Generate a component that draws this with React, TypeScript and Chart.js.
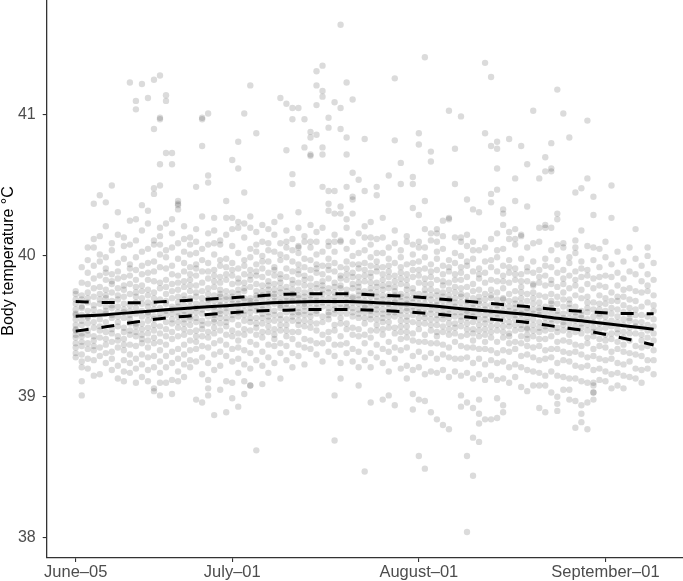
import React, { useEffect, useRef } from "react";
import { Chart, registerables } from "chart.js";

Chart.register(...registerables);

// x axis: days since June 5
const xTickDays = [0, 26, 57, 88];
const xTickLabels = ["June–05", "July–01", "August–01", "September–01"];
const yTicks = [38, 39, 40, 41];
const yTitle = "Body temperature °C";

// smoothed fit and its confidence band
const fitDays = [0, 5, 10, 15, 20, 25, 30, 35, 40, 45, 50, 55, 60, 65, 70, 75, 80, 85, 90, 96];
const fitMean = [39.571, 39.583, 39.6, 39.618, 39.633, 39.647, 39.661, 39.671, 39.676, 39.676, 39.668, 39.658, 39.642, 39.622, 39.604, 39.584, 39.557, 39.535, 39.51, 39.479];
const fitUpper = [39.676, 39.669, 39.668, 39.676, 39.688, 39.7, 39.715, 39.728, 39.732, 39.732, 39.722, 39.713, 39.696, 39.678, 39.658, 39.64, 39.618, 39.604, 39.592, 39.59];
const fitLower = [39.466, 39.497, 39.531, 39.559, 39.577, 39.594, 39.608, 39.615, 39.62, 39.619, 39.614, 39.603, 39.587, 39.566, 39.547, 39.528, 39.497, 39.467, 39.425, 39.368];

// body temperature readings per day (index = days since June 5)
const dailyTemps: number[][] = [
  [39.75, 39.73, 39.66, 39.59, 39.58, 39.55, 39.51, 39.44, 39.42, 39.38, 39.31, 39.28, 39.62, 39.48, 39.69, 39.35, 39.47],
  [39.92, 39.81, 39.69, 39.64, 39.63, 39.54, 39.45, 39.43, 39.39, 39.3, 39.25, 39.21, 39.72, 39.11, 39.01, 39.51, 39.58, 39.36],
  [40.06, 39.97, 39.8, 39.74, 39.61, 39.57, 39.56, 39.47, 39.38, 39.34, 39.27, 39.2, 39.67, 39.52, 39.88, 39.44, 39.7],
  [40.37, 40.12, 40.06, 39.93, 39.77, 39.65, 39.62, 39.49, 39.4, 39.36, 39.33, 39.15, 39.58, 39.71, 39.43, 39.84, 39.53, 39.26],
  [40.43, 40.14, 40.01, 39.96, 39.86, 39.73, 39.69, 39.66, 39.55, 39.5, 39.42, 39.29, 39.16, 39.6, 39.47, 39.35, 39.78],
  [40.38, 40.21, 39.99, 39.91, 39.83, 39.76, 39.7, 39.61, 39.59, 39.46, 39.41, 39.37, 39.24, 39.64, 39.53, 39.31, 39.88, 39.72],
  [40.5, 40.09, 40.04, 39.87, 39.8, 39.74, 39.65, 39.63, 39.56, 39.48, 39.45, 39.32, 39.19, 39.68, 39.39, 39.82, 39.58, 39.27],
  [40.31, 40.15, 39.95, 39.89, 39.77, 39.72, 39.64, 39.57, 39.5, 39.43, 39.4, 39.35, 39.22, 39.13, 39.6, 39.69, 39.84, 39.53],
  [40.13, 40.07, 39.98, 39.85, 39.76, 39.71, 39.62, 39.6, 39.49, 39.46, 39.41, 39.33, 39.26, 39.11, 39.56, 39.79, 39.66, 39.37, 39.18],
  [41.23, 40.25, 40.08, 39.94, 39.86, 39.8, 39.73, 39.61, 39.55, 39.52, 39.44, 39.37, 39.3, 39.17, 39.65, 39.58, 39.91, 39.24, 39.47],
  [41.1, 41.04, 40.26, 40.11, 39.99, 39.9, 39.78, 39.71, 39.67, 39.59, 39.52, 39.5, 39.43, 39.36, 39.27, 39.2, 39.1, 39.63, 39.83, 39.46, 39.74],
  [41.22, 40.36, 40.18, 40.03, 39.93, 39.87, 39.79, 39.7, 39.66, 39.57, 39.48, 39.44, 39.38, 39.3, 39.23, 39.61, 39.75, 39.52, 39.41, 39.14],
  [41.12, 40.32, 40.23, 40.05, 39.95, 39.83, 39.76, 39.72, 39.64, 39.6, 39.54, 39.49, 39.4, 39.35, 39.28, 39.19, 39.11, 39.58, 39.67, 39.45, 39.88],
  [41.25, 40.9, 40.48, 40.44, 40.11, 40.08, 39.96, 39.89, 39.82, 39.74, 39.66, 39.62, 39.57, 39.51, 39.42, 39.38, 39.29, 39.21, 39.06, 39.04, 39.55, 39.7, 39.47],
  [41.28, 40.98, 40.97, 40.65, 40.5, 40.2, 40.14, 40.08, 40.01, 39.92, 39.81, 39.77, 39.69, 39.63, 39.59, 39.5, 39.45, 39.39, 39.33, 39.25, 39.17, 39.1, 39.01, 39.56],
  [41.14, 41.1, 40.73, 40.23, 39.99, 39.91, 39.83, 39.78, 39.73, 39.66, 39.61, 39.53, 39.48, 39.43, 39.37, 39.29, 39.21, 39.1, 39.58, 39.68, 40.04],
  [40.73, 40.65, 40.26, 40.16, 40.06, 39.93, 39.87, 39.75, 39.7, 39.64, 39.59, 39.55, 39.46, 39.41, 39.32, 39.24, 39.12, 39.02, 39.62, 39.52, 39.8],
  [40.39, 40.37, 40.36, 40.33, 40.09, 39.98, 39.86, 39.81, 39.76, 39.71, 39.67, 39.6, 39.53, 39.49, 39.43, 39.34, 39.27, 39.18, 39.11, 39.57, 39.64],
  [40.21, 40.03, 39.95, 39.89, 39.82, 39.78, 39.72, 39.69, 39.61, 39.55, 39.52, 39.44, 39.37, 39.3, 39.23, 39.14, 39.65, 39.58, 39.48, 40.12],
  [40.13, 40.08, 40.01, 39.92, 39.87, 39.83, 39.75, 39.7, 39.64, 39.6, 39.57, 39.51, 39.46, 39.4, 39.33, 39.21, 39.68, 39.55, 39.79, 39.26],
  [40.49, 40.19, 40.1, 40.02, 39.94, 39.91, 39.86, 39.79, 39.71, 39.66, 39.6, 39.56, 39.53, 39.47, 39.39, 39.34, 39.25, 38.98, 39.63, 39.74, 39.43],
  [40.98, 40.97, 40.78, 40.28, 40.05, 39.97, 39.89, 39.81, 39.75, 39.7, 39.62, 39.59, 39.54, 39.48, 39.43, 39.36, 39.28, 39.16, 38.96, 39.66, 39.51],
  [41.01, 40.57, 40.52, 40.16, 40.08, 39.95, 39.89, 39.84, 39.77, 39.69, 39.63, 39.57, 39.52, 39.46, 39.42, 39.35, 39.24, 39.12, 39.06, 39.01, 39.66, 39.73],
  [40.27, 40.18, 40.01, 39.9, 39.86, 39.82, 39.78, 39.72, 39.64, 39.62, 39.58, 39.55, 39.49, 39.45, 39.38, 39.3, 39.19, 38.87, 39.68, 39.53, 40.09],
  [40.11, 40.08, 39.97, 39.93, 39.85, 39.76, 39.73, 39.68, 39.65, 39.61, 39.59, 39.52, 39.47, 39.4, 39.32, 39.22, 39.05, 39.71, 39.56, 39.81],
  [40.39, 40.27, 40.15, 39.98, 39.92, 39.87, 39.83, 39.75, 39.71, 39.65, 39.63, 39.6, 39.56, 39.5, 39.44, 39.37, 39.29, 39.11, 38.89, 39.69, 39.53],
  [40.68, 40.27, 40.07, 39.95, 39.9, 39.86, 39.8, 39.74, 39.69, 39.66, 39.62, 39.58, 39.55, 39.47, 39.43, 39.34, 39.25, 39.1, 38.99, 39.71, 40.19],
  [40.81, 40.62, 40.24, 40.2, 40.02, 39.91, 39.84, 39.81, 39.76, 39.73, 39.66, 39.63, 39.6, 39.57, 39.51, 39.45, 39.35, 39.27, 39.17, 38.93, 39.69, 39.4],
  [41.01, 40.45, 40.23, 40.13, 39.97, 39.93, 39.87, 39.81, 39.75, 39.7, 39.68, 39.65, 39.61, 39.54, 39.48, 39.44, 39.33, 39.23, 39.11, 39.02, 39.58, 39.77],
  [41.21, 40.28, 40.2, 40.05, 39.99, 39.9, 39.83, 39.78, 39.7, 39.68, 39.63, 39.6, 39.56, 39.53, 39.47, 39.39, 39.31, 39.2, 39.08, 39.08, 39.66, 39.86],
  [40.87, 40.17, 40.08, 39.94, 39.89, 39.86, 39.8, 39.75, 39.7, 39.67, 39.64, 39.61, 39.56, 39.49, 39.44, 39.37, 39.26, 38.62, 39.72, 39.52, 40.03],
  [40.1, 40.0, 39.96, 39.91, 39.85, 39.79, 39.72, 39.69, 39.65, 39.62, 39.59, 39.52, 39.46, 39.42, 39.32, 39.22, 39.09, 39.75, 39.56, 40.22],
  [40.19, 40.04, 39.96, 39.88, 39.82, 39.76, 39.73, 39.71, 39.67, 39.63, 39.6, 39.57, 39.5, 39.46, 39.37, 39.28, 39.17, 39.79, 39.54, 40.09],
  [40.24, 40.15, 40.03, 39.92, 39.9, 39.86, 39.8, 39.73, 39.68, 39.71, 39.66, 39.61, 39.54, 39.48, 39.41, 39.36, 39.24, 39.58, 39.76, 39.44],
  [41.12, 40.09, 40.01, 39.97, 39.87, 39.81, 39.77, 39.74, 39.7, 39.67, 39.63, 39.58, 39.51, 39.47, 39.38, 39.31, 39.13, 39.65, 39.84, 39.55, 40.28],
  [41.08, 40.75, 40.18, 40.1, 40.06, 39.99, 39.91, 39.85, 39.78, 39.75, 39.71, 39.68, 39.66, 39.6, 39.55, 39.51, 39.43, 39.36, 39.26, 39.63, 39.47],
  [41.05, 40.97, 40.58, 40.51, 40.12, 40.04, 39.96, 39.89, 39.83, 39.8, 39.76, 39.73, 39.68, 39.63, 39.57, 39.54, 39.46, 39.41, 39.31, 39.21, 39.7, 39.6],
  [41.05, 40.31, 40.2, 40.07, 40.06, 40.02, 39.94, 39.9, 39.87, 39.81, 39.76, 39.72, 39.7, 39.67, 39.6, 39.58, 39.51, 39.46, 39.37, 39.29, 39.63, 39.54],
  [40.97, 40.77, 40.14, 40.1, 39.98, 39.92, 39.86, 39.79, 39.74, 39.71, 39.68, 39.64, 39.61, 39.54, 39.5, 39.41, 39.35, 39.23, 39.66, 39.58, 39.83],
  [40.88, 40.84, 40.72, 40.71, 40.22, 40.1, 40.06, 39.97, 39.9, 39.84, 39.79, 39.75, 39.72, 39.69, 39.63, 39.6, 39.53, 39.49, 39.4, 39.34, 39.67, 39.57],
  [41.31, 41.21, 41.07, 40.86, 40.17, 40.1, 40.01, 39.94, 39.91, 39.88, 39.8, 39.77, 39.71, 39.68, 39.66, 39.61, 39.59, 39.52, 39.47, 39.38, 39.3, 39.63],
  [41.35, 41.17, 41.13, 40.77, 40.72, 40.49, 40.2, 40.03, 39.93, 39.87, 39.82, 39.79, 39.76, 39.73, 39.67, 39.64, 39.57, 39.53, 39.44, 39.38, 39.25, 39.69],
  [40.98, 40.91, 40.46, 40.37, 40.32, 40.1, 40.07, 39.98, 39.93, 39.9, 39.84, 39.77, 39.74, 39.7, 39.67, 39.63, 39.6, 39.55, 39.46, 39.41, 39.32, 39.58],
  [41.09, 40.46, 40.3, 40.15, 40.1, 40.03, 39.95, 39.89, 39.81, 39.78, 39.74, 39.71, 39.68, 39.62, 39.59, 39.51, 39.47, 39.37, 39.29, 39.01, 38.69, 39.65],
  [41.64, 41.05, 40.9, 40.35, 40.3, 40.11, 40.1, 39.92, 39.86, 39.84, 39.79, 39.77, 39.7, 39.66, 39.63, 39.6, 39.56, 39.52, 39.43, 39.37, 39.24, 39.13],
  [41.23, 40.84, 40.72, 40.49, 40.26, 40.2, 40.05, 39.96, 39.91, 39.87, 39.83, 39.76, 39.73, 39.7, 39.67, 39.64, 39.59, 39.52, 39.48, 39.38, 39.31, 39.63],
  [41.11, 40.59, 40.42, 40.4, 40.3, 40.1, 40.0, 39.94, 39.88, 39.85, 39.8, 39.77, 39.7, 39.67, 39.63, 39.6, 39.57, 39.49, 39.44, 39.34, 39.25, 39.71],
  [40.54, 40.16, 40.02, 39.94, 39.91, 39.85, 39.78, 39.75, 39.72, 39.69, 39.66, 39.59, 39.56, 39.48, 39.43, 39.32, 39.21, 39.08, 39.62, 39.81],
  [40.83, 40.46, 40.21, 40.13, 40.04, 39.95, 39.86, 39.82, 39.75, 39.72, 39.68, 39.65, 39.63, 39.56, 39.52, 39.44, 39.38, 39.26, 38.47, 39.6, 39.9],
  [40.24, 40.13, 40.08, 39.99, 39.93, 39.85, 39.81, 39.77, 39.74, 39.71, 39.64, 39.61, 39.55, 39.47, 39.42, 39.31, 39.21, 38.96, 39.67, 39.58, 39.88],
  [40.49, 40.43, 40.12, 40.02, 39.96, 39.92, 39.89, 39.81, 39.78, 39.71, 39.68, 39.65, 39.62, 39.59, 39.51, 39.47, 39.37, 39.28, 39.74, 39.55],
  [40.27, 40.13, 40.02, 39.92, 39.87, 39.79, 39.76, 39.72, 39.69, 39.66, 39.59, 39.56, 39.48, 39.44, 39.34, 39.24, 38.98, 39.62, 39.53, 39.83],
  [40.57, 40.06, 39.98, 39.93, 39.89, 39.85, 39.77, 39.72, 39.7, 39.66, 39.63, 39.6, 39.53, 39.49, 39.39, 39.32, 39.18, 39.01, 39.57, 39.8],
  [41.26, 40.82, 40.18, 40.09, 39.95, 39.86, 39.82, 39.75, 39.72, 39.67, 39.63, 39.6, 39.57, 39.49, 39.45, 39.35, 39.27, 38.94, 39.69, 39.78],
  [40.66, 40.51, 40.04, 39.99, 39.92, 39.88, 39.84, 39.8, 39.73, 39.71, 39.68, 39.65, 39.58, 39.54, 39.46, 39.41, 39.33, 39.2, 39.61, 39.5],
  [40.14, 40.1, 39.94, 39.87, 39.83, 39.79, 39.76, 39.69, 39.66, 39.61, 39.57, 39.54, 39.5, 39.42, 39.35, 39.22, 39.13, 39.72, 39.63, 39.46],
  [40.56, 40.51, 40.34, 40.08, 40.01, 39.95, 39.9, 39.85, 39.77, 39.74, 39.7, 39.67, 39.64, 39.58, 39.53, 39.45, 39.4, 39.29, 39.19, 39.02, 38.91, 39.61],
  [40.87, 40.79, 40.29, 40.1, 40.06, 39.96, 39.9, 39.86, 39.81, 39.73, 39.66, 39.7, 39.63, 39.6, 39.52, 39.48, 39.39, 39.32, 39.21, 38.98, 38.58, 39.56],
  [41.41, 40.39, 40.19, 40.06, 39.99, 39.91, 39.84, 39.76, 39.73, 39.7, 39.66, 39.63, 39.56, 39.52, 39.44, 39.39, 39.28, 39.16, 38.97, 38.49, 39.59, 39.8],
  [40.74, 40.67, 40.16, 40.11, 39.94, 39.89, 39.85, 39.8, 39.72, 39.69, 39.65, 39.62, 39.59, 39.51, 39.47, 39.38, 39.31, 39.18, 38.89, 39.55, 39.76],
  [40.19, 40.16, 40.1, 40.03, 39.98, 39.9, 39.83, 39.75, 39.72, 39.68, 39.65, 39.62, 39.55, 39.51, 39.43, 39.38, 39.27, 39.17, 38.84, 39.58, 39.46],
  [40.25, 40.14, 40.05, 39.93, 39.87, 39.82, 39.79, 39.71, 39.68, 39.64, 39.61, 39.58, 39.5, 39.46, 39.37, 39.3, 39.19, 38.8, 39.55, 39.74],
  [41.03, 40.27, 40.26, 39.97, 39.92, 39.89, 39.81, 39.76, 39.69, 39.66, 39.62, 39.59, 39.56, 39.48, 39.44, 39.35, 39.28, 39.14, 38.77, 39.52, 39.72],
  [40.76, 40.51, 40.13, 40.02, 39.95, 39.87, 39.78, 39.74, 39.7, 39.67, 39.64, 39.57, 39.52, 39.45, 39.39, 39.27, 39.18, 39.6, 39.49, 39.83],
  [40.99, 40.13, 40.1, 40.0, 39.92, 39.88, 39.83, 39.77, 39.71, 39.67, 39.63, 39.6, 39.57, 39.5, 39.43, 39.36, 39.27, 39.15, 39.01, 38.93, 39.54, 39.73],
  [40.4, 40.15, 40.07, 39.96, 39.93, 39.85, 39.78, 39.72, 39.68, 39.65, 39.61, 39.56, 39.48, 39.44, 39.35, 39.28, 39.17, 38.96, 38.58, 38.04, 39.52, 39.59],
  [40.33, 40.1, 40.04, 39.98, 39.89, 39.8, 39.75, 39.7, 39.66, 39.63, 39.6, 39.53, 39.48, 39.4, 39.35, 39.24, 39.13, 38.92, 38.71, 38.44, 39.57, 39.45],
  [40.31, 40.04, 39.91, 39.87, 39.84, 39.76, 39.71, 39.66, 39.62, 39.59, 39.55, 39.47, 39.43, 39.34, 39.27, 39.16, 38.98, 38.88, 38.81, 38.68, 39.51, 39.68],
  [41.37, 40.87, 40.06, 39.96, 39.88, 39.81, 39.73, 39.69, 39.65, 39.62, 39.58, 39.52, 39.48, 39.39, 39.34, 39.23, 39.12, 38.84, 39.55, 39.44],
  [41.27, 40.78, 40.44, 40.38, 40.12, 39.97, 39.92, 39.83, 39.76, 39.7, 39.65, 39.61, 39.58, 39.54, 39.46, 39.42, 39.33, 39.26, 39.15, 38.84, 39.5, 39.72],
  [40.81, 40.76, 40.62, 40.47, 40.16, 40.04, 39.99, 39.89, 39.82, 39.74, 39.69, 39.65, 39.62, 39.59, 39.51, 39.47, 39.39, 39.31, 39.24, 39.12, 38.99, 38.85, 39.56],
  [40.33, 40.3, 40.22, 40.05, 39.93, 39.86, 39.82, 39.77, 39.7, 39.65, 39.61, 39.58, 39.54, 39.46, 39.42, 39.33, 39.25, 39.13, 38.94, 38.89, 39.5, 39.69],
  [40.83, 40.17, 40.12, 39.97, 39.92, 39.88, 39.81, 39.73, 39.68, 39.64, 39.61, 39.57, 39.5, 39.45, 39.38, 39.32, 39.21, 39.1, 39.53, 39.43],
  [40.55, 40.39, 40.19, 40.12, 40.08, 39.91, 39.87, 39.83, 39.75, 39.69, 39.63, 39.6, 39.58, 39.51, 39.47, 39.39, 39.34, 39.23, 39.14, 39.55, 39.66],
  [40.78, 40.15, 40.14, 39.98, 39.87, 39.82, 39.78, 39.74, 39.66, 39.62, 39.59, 39.55, 39.51, 39.43, 39.38, 39.29, 39.21, 39.07, 39.48, 39.7],
  [40.65, 40.35, 40.06, 39.92, 39.89, 39.82, 39.73, 39.68, 39.63, 39.61, 39.56, 39.49, 39.48, 39.44, 39.36, 39.3, 39.19, 39.04, 39.53, 39.41],
  [41.03, 40.09, 39.96, 39.88, 39.8, 39.79, 39.74, 39.66, 39.62, 39.59, 39.55, 39.47, 39.43, 39.35, 39.28, 39.18, 39.08, 39.51, 39.7],
  [40.55, 40.2, 40.1, 39.9, 39.85, 39.81, 39.72, 39.67, 39.61, 39.58, 39.53, 39.49, 39.41, 39.36, 39.26, 39.17, 39.08, 38.92, 39.46, 39.63],
  [40.7, 40.6, 40.22, 40.2, 39.98, 39.93, 39.86, 39.79, 39.71, 39.64, 39.6, 39.56, 39.52, 39.47, 39.41, 39.33, 39.27, 39.15, 39.08, 38.89, 39.5],
  [40.8, 40.62, 40.6, 40.2, 40.04, 39.92, 39.83, 39.8, 39.73, 39.68, 39.63, 39.59, 39.55, 39.48, 39.43, 39.34, 39.28, 39.18, 39.03, 39.52, 39.66],
  [41.18, 40.3, 40.26, 40.08, 39.97, 39.88, 39.78, 39.71, 39.66, 39.61, 39.58, 39.54, 39.46, 39.39, 39.34, 39.24, 39.15, 39.0, 38.95, 38.9, 39.49],
  [41.01, 40.09, 40.06, 39.9, 39.84, 39.8, 39.74, 39.64, 39.59, 39.56, 39.51, 39.47, 39.4, 39.32, 39.26, 39.14, 39.05, 39.53, 39.69],
  [40.84, 39.99, 39.95, 39.86, 39.77, 39.69, 39.63, 39.6, 39.56, 39.52, 39.44, 39.39, 39.31, 39.25, 39.13, 39.05, 38.98, 39.48, 39.66],
  [40.45, 40.11, 40.06, 40.02, 39.89, 39.83, 39.79, 39.72, 39.64, 39.57, 39.54, 39.5, 39.46, 39.37, 39.32, 39.22, 39.13, 38.97, 38.78, 39.6],
  [40.48, 40.18, 39.96, 39.91, 39.85, 39.76, 39.7, 39.61, 39.58, 39.56, 39.49, 39.45, 39.36, 39.3, 39.21, 39.11, 38.94, 38.88, 38.82, 39.52],
  [40.96, 40.55, 40.07, 39.9, 39.86, 39.8, 39.71, 39.63, 39.6, 39.55, 39.51, 39.42, 39.38, 39.28, 39.22, 39.1, 38.96, 38.77, 39.47, 39.67],
  [40.42, 40.29, 40.06, 39.97, 39.84, 39.77, 39.67, 39.62, 39.57, 39.53, 39.49, 39.43, 39.34, 39.29, 39.19, 39.1, 39.08, 39.03, 39.03, 38.98, 39.46],
  [40.05, 39.92, 39.85, 39.79, 39.72, 39.62, 39.59, 39.57, 39.48, 39.41, 39.36, 39.27, 39.2, 39.12, 39.52, 39.66],
  [40.1, 39.99, 39.86, 39.78, 39.7, 39.66, 39.61, 39.53, 39.49, 39.4, 39.35, 39.26, 39.18, 39.11, 39.57, 39.44],
  [40.5, 40.27, 39.94, 39.85, 39.74, 39.68, 39.63, 39.59, 39.54, 39.45, 39.41, 39.32, 39.27, 39.16, 39.06, 39.5],
  [40.03, 39.88, 39.79, 39.68, 39.62, 39.57, 39.53, 39.48, 39.39, 39.34, 39.24, 39.17, 39.08, 39.45, 39.71],
  [39.96, 39.84, 39.76, 39.71, 39.65, 39.6, 39.51, 39.46, 39.37, 39.32, 39.23, 39.15, 39.06, 39.55, 39.42],
  [40.06, 39.89, 39.77, 39.69, 39.59, 39.56, 39.54, 39.45, 39.4, 39.31, 39.25, 39.14, 39.49, 39.63],
  [40.19, 39.98, 39.87, 39.75, 39.68, 39.62, 39.58, 39.5, 39.45, 39.36, 39.3, 39.2, 39.13, 39.53],
  [39.93, 39.82, 39.74, 39.64, 39.58, 39.53, 39.49, 39.44, 39.35, 39.29, 39.19, 39.1, 39.4],
  [40.06, 40.0, 39.87, 39.79, 39.75, 39.67, 39.57, 39.51, 39.42, 39.36, 39.26, 39.2, 39.47],
  [39.95, 39.83, 39.72, 39.65, 39.61, 39.55, 39.5, 39.4, 39.33, 39.26, 39.16, 39.45],
];

const FONT = "'Liberation Sans', Arial, Helvetica, sans-serif";

export default function App() {
  const ref = useRef<HTMLCanvasElement>(null);

  useEffect(() => {
    if (!ref.current) return;
    const points: { x: number; y: number }[] = [];
    dailyTemps.forEach((temps, day) => temps.forEach((t) => points.push({ x: day, y: t })));
    const toLine = (vals: number[]) => fitDays.map((d, i) => ({ x: d, y: vals[i] }));

    const titlePlugin = {
      id: "yTitle",
      afterDraw(chart: any) {
        const ctx = chart.ctx;
        ctx.save();
        ctx.translate(9, 261);
        ctx.rotate(-Math.PI / 2);
        ctx.textAlign = "center";
        ctx.textBaseline = "middle";
        ctx.fillStyle = "#000";
        ctx.font = `16px ${FONT}`;
        ctx.fillText(yTitle, 0, 0);
        ctx.restore();
      },
    };

    const lineCommon = {
      type: "line" as const,
      borderColor: "#000",
      borderWidth: 3,
      pointRadius: 0,
      fill: false,
      cubicInterpolationMode: "monotone" as const,
      borderCapStyle: "butt" as const,
    };

    const chart = new Chart(ref.current, {
      type: "scatter",
      data: {
        datasets: [
          { ...lineCommon, data: toLine(fitMean) },
          { ...lineCommon, data: toLine(fitUpper), borderDash: [13, 13] },
          { ...lineCommon, data: toLine(fitLower), borderDash: [13, 13] },
          {
            data: points,
            pointRadius: 3.2,
            pointBackgroundColor: "rgba(0,0,0,0.14)",
            pointBorderWidth: 0,
            showLine: false,
          },
        ],
      } as any,
      options: {
        animation: false,
        responsive: false,
        events: [],
        layout: { padding: 0, autoPadding: false },
        plugins: { legend: { display: false }, tooltip: { enabled: false } },
        scales: {
          x: {
            type: "linear",
            min: -4.82,
            max: 100.88,
            afterBuildTicks: (s: any) => {
              s.ticks = xTickDays.map((v) => ({ value: v }));
            },
            afterFit: (s: any) => {
              s.height = 23;
              s.paddingLeft = 0;
              s.paddingRight = 0;
            },
            ticks: {
              autoSkip: false,
              maxRotation: 0,
              padding: 1,
              color: "#4D4D4D",
              font: { family: FONT, size: 16.5 },
              callback: (_v: any, i: number) => xTickLabels[i],
            },
            grid: { drawOnChartArea: false, drawTicks: true, tickLength: 4, color: "#333", lineWidth: 1.1 },
            border: { display: true, color: "#333", width: 1.3 },
          },
          y: {
            type: "linear",
            min: 37.856,
            max: 41.816,
            afterBuildTicks: (s: any) => {
              s.ticks = yTicks.map((v) => ({ value: v }));
            },
            afterFit: (s: any) => {
              s.width = 46.7;
              s.paddingTop = 0;
              s.paddingBottom = 0;
            },
            ticks: {
              padding: 7,
              color: "#4D4D4D",
              font: { family: FONT, size: 16 },
              callback: (v: any) => String(v),
            },
            grid: { drawOnChartArea: false, drawTicks: true, tickLength: 4, color: "#333", lineWidth: 1.1 },
            border: { display: true, color: "#333", width: 1.3 },
          },
        },
      } as any,
      plugins: [titlePlugin],
    });
    return () => chart.destroy();
  }, []);

  return (
    <div style={{ position: "absolute", left: 0, top: 0, width: 683, height: 581, background: "#fff" }}>
      <canvas ref={ref} width={683} height={581} style={{ display: "block" }} />
    </div>
  );
}
